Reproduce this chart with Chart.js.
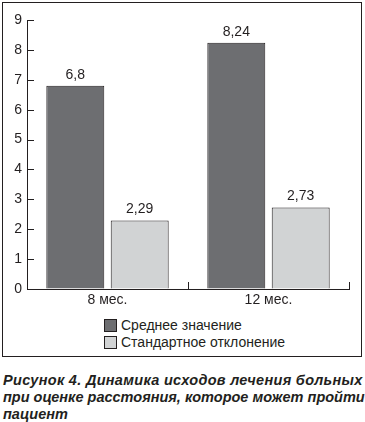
<!DOCTYPE html>
<html>
<head>
<meta charset="utf-8">
<script src="https://cdn.jsdelivr.net/npm/chart.js@4/dist/chart.umd.min.js"></script>
<style>
  body { margin: 0; background: #fff; font-family: "Liberation Sans", Arial, sans-serif; }
  #frame { position: absolute; left: 2px; top: 2px; width: 358px; height: 353px; border: 1.5px solid #231f20; }
  #wrap { position: absolute; left: 0px; top: 1px; width: 358px; height: 302px; }
  #legend { position: absolute; left: 101px; top: 314px; font-size: 14px; color: #231f20; }
  .item { height: 17px; line-height: 17px; white-space: nowrap; }
  .sw { display: inline-block; width: 11px; height: 11px; border: 1px solid #231f20; vertical-align: -2px; margin-right: 4px; }
  #caption { position: absolute; left: 3px; top: 372px; white-space: nowrap; font-weight: bold; font-style: italic;
             font-size: 14.5px; line-height: 17px; color: #231f20; }
  #caption .l1 { letter-spacing: 0.3px; }
</style>
</head>
<body>
<div id="frame">
  <div id="wrap"><canvas id="chart"></canvas></div>
  <div id="legend"></div>
</div>
<div id="caption"><span class="l1">Рисунок 4. Динамика исходов лечения больных</span><br>при оценке расстояния, которое может пройти<br>пациент</div>
<script>
const categories = ['8 мес.', '12 мес.'];
const meanValues = [6.8, 8.24];
const sdValues = [2.29, 2.73];
const seriesLabels = ['Среднее значение', 'Стандартное отклонение'];
const seriesColors = ['#6d6e71', '#d1d3d4'];
const yTicks = [0, 1, 2, 3, 4, 5, 6, 7, 8, 9];

const ink = '#231f20';
const fontFamily = '"Liberation Sans", Arial, sans-serif';

// value labels above bars, decimal comma
const valueLabels = {
  id: 'valueLabels',
  afterDatasetsDraw(chart) {
    const ctx = chart.ctx;
    ctx.save();
    ctx.font = '14px ' + fontFamily;
    ctx.fillStyle = ink;
    ctx.textAlign = 'center';
    ctx.textBaseline = 'bottom';
    chart.data.datasets.forEach((ds, di) => {
      chart.getDatasetMeta(di).data.forEach((bar, i) => {
        ctx.fillText(String(ds.data[i]).replace('.', ','), bar.x, bar.y - 4);
      });
    });
    ctx.restore();
  }
};

// short inward tick marks on both axes
const innerTicks = {
  id: 'innerTicks',
  afterDraw(chart) {
    const ctx = chart.ctx, x = chart.scales.x, y = chart.scales.y;
    ctx.save();
    ctx.strokeStyle = ink;
    ctx.lineWidth = 1;
    ctx.beginPath();
    yTicks.forEach(v => {
      const py = Math.round(y.getPixelForValue(v)) + 0.5;
      ctx.moveTo(x.left, py);
      ctx.lineTo(x.left + 7, py);
    });
    const half = (x.getPixelForValue(1) - x.getPixelForValue(0)) / 2;
    categories.forEach((c, i) => {
      const px = Math.round(x.getPixelForValue(i) + half) + 0.5;
      ctx.moveTo(px, y.bottom);
      ctx.lineTo(px, y.bottom - 7);
    });
    ctx.stroke();
    ctx.restore();
  }
};

new Chart(document.getElementById('chart'), {
  type: 'bar',
  data: {
    labels: categories,
    datasets: [
      { label: seriesLabels[0], data: meanValues, backgroundColor: seriesColors[0], borderColor: ink, borderWidth: 1 },
      { label: seriesLabels[1], data: sdValues, backgroundColor: seriesColors[1], borderColor: ink, borderWidth: 1 }
    ]
  },
  options: {
    responsive: true,
    maintainAspectRatio: false,
    animation: false,
    layout: { padding: { top: 16, right: 12 } },
    datasets: { bar: { categoryPercentage: 0.8, barPercentage: 0.9 } },
    plugins: { legend: { display: false }, tooltip: { enabled: false } },
    scales: {
      x: {
        grid: { drawOnChartArea: false, drawTicks: false },
        border: { color: ink, width: 1 },
        ticks: { color: ink, font: { size: 14, family: fontFamily }, padding: 3 },
        afterFit(s) { s.height = 17; }
      },
      y: {
        min: 0, max: 9,
        grid: { drawOnChartArea: false, drawTicks: false },
        border: { color: ink, width: 1 },
        ticks: { stepSize: 1, color: ink, font: { size: 14, family: fontFamily }, padding: 5 },
        afterFit(s) { s.width = 24; }
      }
    }
  },
  plugins: [valueLabels, innerTicks]
});

const legend = document.getElementById('legend');
seriesLabels.forEach((l, i) => {
  const d = document.createElement('div');
  d.className = 'item';
  d.innerHTML = '<span class="sw" style="background:' + seriesColors[i] + '"></span>' + l;
  legend.appendChild(d);
});
</script>
</body>
</html>
